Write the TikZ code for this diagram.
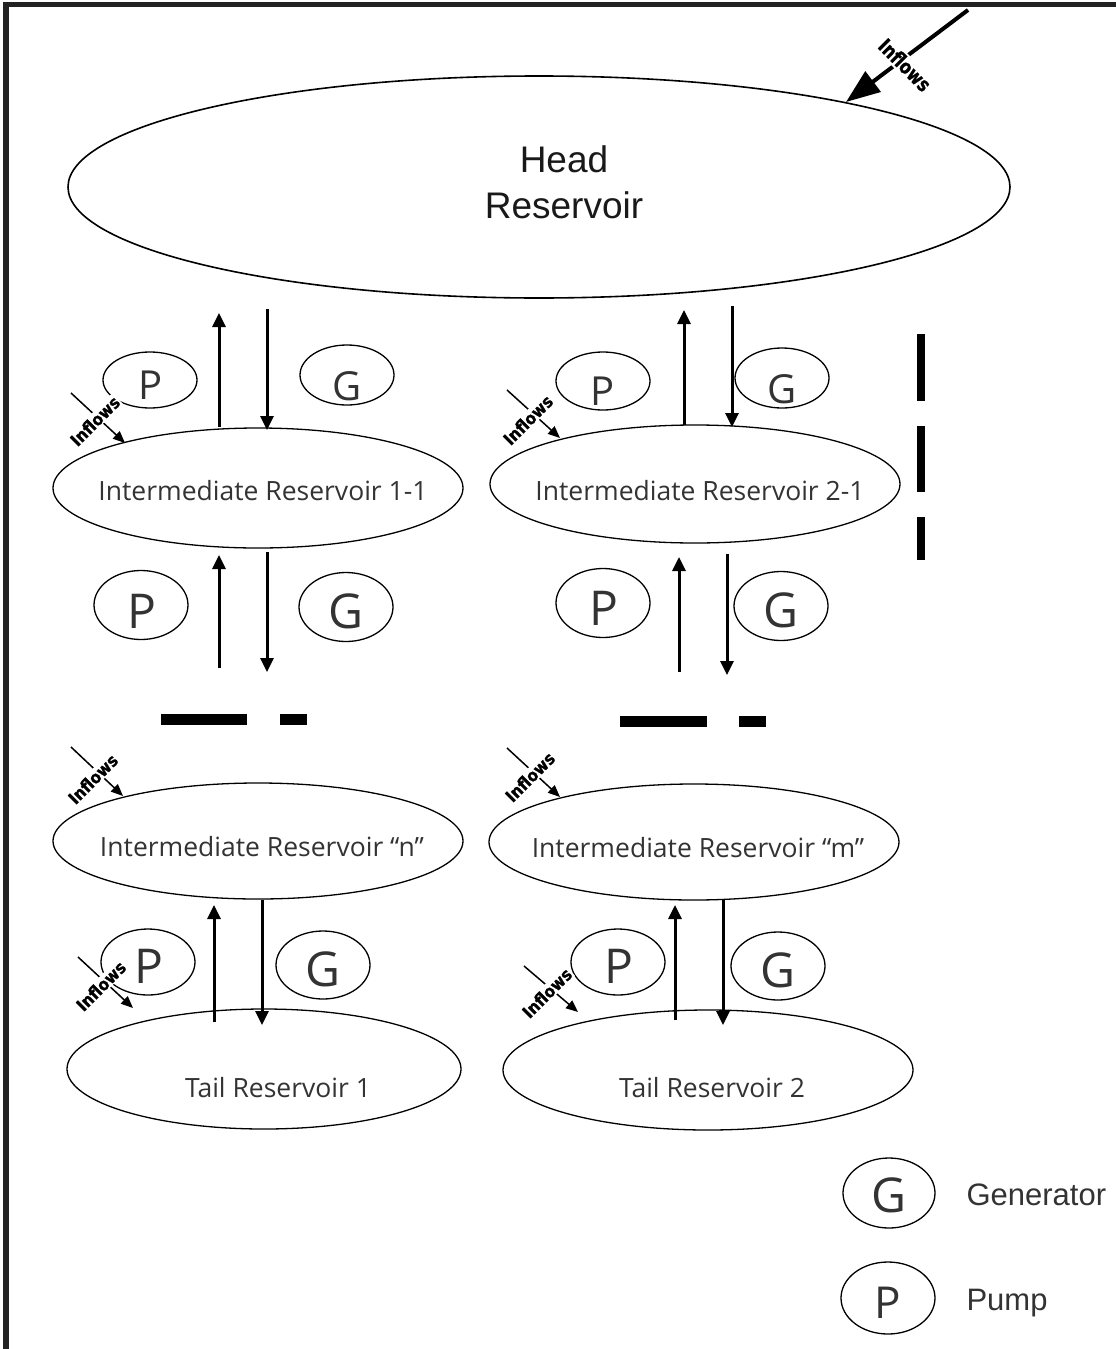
\documentclass[tikz,border=0pt]{standalone}
\usepackage{fontspec}
\setmainfont{Liberation Sans}
\newfontfamily\osans{Open Sans}
\newfontfamily\djb{DejaVu Sans}[FakeStretch=0.9,FakeBold=1]
\newfontfamily\djbt{DejaVu Sans}[FakeStretch=0.8,FakeBold=1]
\usetikzlibrary{shapes.geometric,arrows.meta}
\definecolor{txtgray}{HTML}{333333}
\definecolor{frame}{HTML}{222222}
\tikzset{
  res/.style={ellipse, draw, line width=1.3pt, inner sep=0pt},
  restext/.style={anchor=base, inner sep=0pt, text=txtgray, font=\osans\fontsize{26.5}{30}\selectfont},
  pgnode/.style={ellipse, draw, line width=1.3pt, inner sep=0pt,
    minimum width=94pt, minimum height=60pt},
  pglet/.style={inner sep=0pt, text=txtgray, font=\osans\fontsize{#1}{#1}\selectfont},
  flow/.style={line width=3pt, -{Triangle[length=14pt,width=13pt]}},
  inflow/.style={line width=1.5pt, -{Triangle[length=12pt,width=10pt]}},
  inlabel/.style={font=\djb\bfseries\fontsize{17}{18}\selectfont, fill=white, inner sep=1pt, rotate=45},
  dashbar/.style={fill=black},
}
\begin{document}
\begin{tikzpicture}[x=1pt,y=-1pt]
\useasboundingbox (0,0) rectangle (1116,1349);
% frame (only top and left sides visible)
\draw[frame, line width=5.5pt] (6,1360) -- (6,4.5) -- (1125,4.5);

% head reservoir
\node[ellipse, draw, line width=1.6pt, minimum width=942pt, minimum height=222pt, inner sep=0pt] (head) at (539,187) {};
\node[align=center, font=\fontsize{37}{46}\selectfont, text=black!90] (headtxt) at (564,182) {Head\\Reservoir};

% top inflow
\coordinate (tin0) at (968,10);
\coordinate (tin1) at (846,102);
\draw[line width=4pt, -{Triangle[length=34pt,width=25pt]}] (tin0) -- (tin1);
\node[font=\djbt\bfseries\fontsize{20}{21}\selectfont, fill=white, inner sep=2pt, rotate=-45] (tinl) at (905,65) {Inflows};

% intermediate and tail reservoirs
\node[res, minimum width=410pt, minimum height=120pt] (ir11) at (258,488) {};
\node[res, minimum width=410pt, minimum height=118pt] (ir21) at (695,484) {};
\node[res, minimum width=410pt, minimum height=116pt] (irn) at (258,841) {};
\node[res, minimum width=410pt, minimum height=116pt] (irm) at (694,842) {};
\node[res, minimum width=394pt, minimum height=120pt] (t1) at (264,1069) {};
\node[res, minimum width=410pt, minimum height=120pt] (t2) at (708,1070) {};
\node[restext] (ir11t) at (263,500) {Intermediate Reservoir 1-1};
\node[restext] (ir21t) at (700,500) {Intermediate Reservoir 2-1};
\node[restext] (irnt) at (262,856) {Intermediate Reservoir “n”};
\node[restext] (irmt) at (698,857) {Intermediate Reservoir “m”};
\node[restext] (t1t) at (278,1097) {Tail Reservoir 1};
\node[restext] (t2t) at (712,1097) {Tail Reservoir 2};

% pumps and generators (ellipse + letter)
\node[pgnode, minimum height=56pt] (p1) at (150,380) {};
\node[pglet=40] (p1t) at (151,385) {P};
\node[pgnode] (g1) at (347,375) {};
\node[pglet=40] (g1t) at (347,386) {G};
\node[pgnode, minimum height=58pt] (p2) at (603,381) {};
\node[pglet=40] (p2t) at (603,391) {P};
\node[pgnode] (g2) at (782,378) {};
\node[pglet=40] (g2t) at (782,389) {G};
\node[pgnode, minimum height=69pt] (p3) at (141,605) {};
\node[pglet=48] (p3t) at (142,611) {P};
\node[pgnode, minimum height=69pt] (g3) at (346,607) {};
\node[pglet=48] (g3t) at (346,611) {G};
\node[pgnode, minimum height=69pt] (p4) at (603,603) {};
\node[pglet=48] (p4t) at (604,608) {P};
\node[pgnode, minimum height=69pt] (g4) at (781,606) {};
\node[pglet=48] (g4t) at (781,610) {G};
\node[pgnode, minimum height=66pt] (p5) at (148,962) {};
\node[pglet=48] (p5t) at (149,966) {P};
\node[pgnode, minimum height=68pt] (g5) at (323,965) {};
\node[pglet=48] (g5t) at (323,969) {G};
\node[pgnode, minimum height=66pt] (p6) at (618,962) {};
\node[pglet=48] (p6t) at (619,966) {P};
\node[pgnode, minimum height=68pt] (g6) at (778,966) {};
\node[pglet=48] (g6t) at (778,970) {G};

% flow arrows (column 1)
\coordinate (u1s) at (219,427); \coordinate (u1e) at (219,313);
\coordinate (d1s) at (267,309); \coordinate (d1e) at (267,430);
\coordinate (u3s) at (219,668); \coordinate (u3e) at (219,555);
\coordinate (d3s) at (267,552); \coordinate (d3e) at (267,672);
\coordinate (u5s) at (214,1022); \coordinate (u5e) at (214,905);
\coordinate (d5s) at (262,900); \coordinate (d5e) at (262,1025);
% flow arrows (column 2)
\coordinate (u2s) at (684,425); \coordinate (u2e) at (684,310);
\coordinate (d2s) at (732,306); \coordinate (d2e) at (732,427);
\coordinate (u4s) at (679,672); \coordinate (u4e) at (679,557);
\coordinate (d4s) at (727,554); \coordinate (d4e) at (727,675);
\coordinate (u6s) at (675,1020); \coordinate (u6e) at (675,905);
\coordinate (d6s) at (723,900); \coordinate (d6e) at (723,1025);
\foreach \n in {1,...,6}{
  \draw[flow] (u\n s) -- (u\n e);
  \draw[flow] (d\n s) -- (d\n e);
}

% small inflows
\coordinate (i1s) at (71,393);  \coordinate (i1e) at (125,443);
\coordinate (i2s) at (507,390); \coordinate (i2e) at (560,438);
\coordinate (i3s) at (71,747);  \coordinate (i3e) at (123,796);
\coordinate (i4s) at (507,748); \coordinate (i4e) at (560,797);
\coordinate (i5s) at (78,957);  \coordinate (i5e) at (133,1008);
\coordinate (i6s) at (524,966); \coordinate (i6e) at (578,1012);
\foreach \n in {1,...,6}{\draw[inflow] (i\n s) -- (i\n e);}
\node[inlabel] (l1) at (95,421) {Inflows};
\node[inlabel] (l2) at (528,420) {Inflows};
\node[inlabel] (l3) at (93,779) {Inflows};
\node[inlabel] (l4) at (530,777) {Inflows};
\node[inlabel] (l5) at (101,986) {Inflows};
\node[inlabel] (l6) at (547,993) {Inflows};

% continuation dashes
\fill[dashbar] (161,714) rectangle (247,725);
\fill[dashbar] (280,714) rectangle (307,725);
\fill[dashbar] (620,716) rectangle (707,727);
\fill[dashbar] (739,716) rectangle (766,727);
\fill[dashbar] (917,334) rectangle (925,401);
\fill[dashbar] (917,426) rectangle (925,492);
\fill[dashbar] (917,517) rectangle (925,560);

% legend
\node[pgnode, minimum width=92pt, minimum height=70pt] (lg) at (889,1193) {};
\node[pglet=48] (lgl) at (889,1195) {G};
\node[anchor=base west, font=\fontsize{31}{34}\selectfont, text=txtgray] (lgt) at (963,1205) {Generator};
\node[pgnode, minimum width=94pt, minimum height=72pt] (lp) at (888,1298) {};
\node[pglet=44] (lpl) at (888,1303) {P};
\node[anchor=base west, font=\fontsize{31}{34}\selectfont, text=txtgray] (lpt) at (963,1310) {Pump};
\end{tikzpicture}
\end{document}
